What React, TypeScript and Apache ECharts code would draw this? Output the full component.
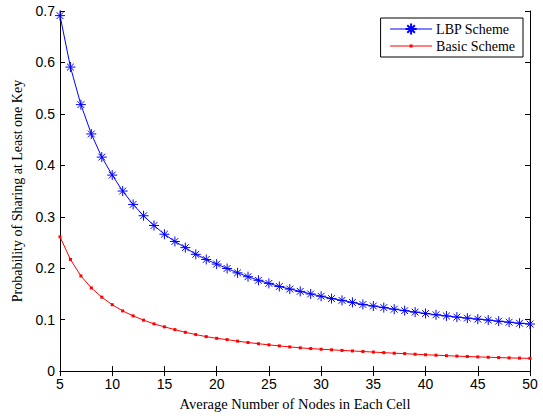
import React, { useEffect, useRef } from "react";
import * as echarts from "echarts";

const nodes = [5,6,7,8,9,10,11,12,13,14,15,16,17,18,19,20,21,22,23,24,25,26,27,28,29,30,31,32,33,34,35,36,37,38,39,40,41,42,43,44,45,46,47,48,49,50];
const lbpScheme = [0.691,0.591,0.518,0.461,0.416,0.381,0.350,0.324,0.302,0.283,0.266,0.252,0.240,0.227,0.217,0.208,0.1995,0.191,0.1835,0.1765,0.1705,0.1645,0.1595,0.155,0.150,0.1455,0.141,0.1375,0.1335,0.1295,0.1265,0.1235,0.1203,0.1175,0.1147,0.112,0.1095,0.1072,0.105,0.103,0.101,0.0992,0.097,0.095,0.093,0.0915];
const basicScheme = [0.261,0.217,0.185,0.1617,0.1438,0.129,0.117,0.1074,0.099,0.0918,0.086,0.0806,0.0754,0.071,0.067,0.0637,0.0612,0.0582,0.0556,0.0532,0.051,0.049,0.047,0.0452,0.0438,0.0425,0.0414,0.0402,0.0392,0.0381,0.037,0.0359,0.0348,0.034,0.0328,0.0318,0.0309,0.03,0.0291,0.0284,0.0276,0.0269,0.0263,0.0257,0.0252,0.0248];
const xTicks = { min: 5, max: 50, interval: 5 };
const yTicks = { min: 0, max: 0.7, interval: 0.1 };

const asterisk = "path://M5,0L5,10M0,5L10,5M1.6,1.6L8.4,8.4M1.6,8.4L8.4,1.6";
const basicLegendIcon =
  "path://M0,0L0.01,0L0,0.01Z M42,14L41.99,14L42,13.99Z M0,6.5L42,6.5L42,7.5L0,7.5Z M19.5,5.5L22.5,5.5L22.5,8.5L19.5,8.5Z";

export default function App() {
  const ref = useRef<HTMLDivElement>(null);
  useEffect(() => {
    if (!ref.current) return;
    const chart = echarts.init(ref.current, null, { renderer: "svg" });
    const tickFont = { fontFamily: "Liberation Sans", fontSize: 14, color: "#000" };
    const titleFont = { fontFamily: "Liberation Serif", fontSize: 14, color: "#000" };
    const axisLine = { show: true, lineStyle: { color: "#000", width: 1 } };
    const tick = { show: true, inside: true, length: 5, lineStyle: { color: "#000" } };
    chart.setOption({
      animation: false,
      backgroundColor: "#fff",
      grid: { left: 60, right: 13, top: 11, bottom: 40, containLabel: false },
      legend: {
        orient: "vertical",
        right: 20,
        top: 18,
        backgroundColor: "#fff",
        borderColor: "#000",
        borderWidth: 1,
        borderRadius: 0,
        padding: [4, 8, 4, 9],
        itemGap: 3,
        itemWidth: 42,
        itemHeight: 14,
        symbolKeepAspect: true,
        lineStyle: { width: 1 },
        textStyle: { fontFamily: "Liberation Serif", fontSize: 14, color: "#000", padding: [0, 0, 0, -1] },
        data: [{ name: "LBP Scheme" }, { name: "Basic Scheme", icon: basicLegendIcon }],
      },
      xAxis: [
        {
          type: "value",
          ...xTicks,
          name: "Average Number of Nodes in Each Cell",
          nameLocation: "middle",
          nameGap: 22,
          nameTextStyle: { ...titleFont, fontSize: 14.5 },
          axisLine,
          axisTick: tick,
          axisLabel: { ...tickFont, margin: 6 },
          splitLine: { show: false },
        },
        {
          type: "value",
          position: "top",
          ...xTicks,
          axisLine,
          axisTick: tick,
          axisLabel: { show: false },
          splitLine: { show: false },
        },
      ],
      yAxis: [
        {
          type: "value",
          ...yTicks,
          name: "Probability of Sharing at Least one Key",
          nameLocation: "middle",
          nameGap: 29,
          nameTextStyle: titleFont,
          axisLine,
          axisTick: tick,
          axisLabel: { ...tickFont, margin: 5 },
          splitLine: { show: false },
        },
        {
          type: "value",
          position: "right",
          ...yTicks,
          axisLine,
          axisTick: tick,
          axisLabel: { show: false },
          splitLine: { show: false },
        },
      ],
      series: [
        {
          name: "LBP Scheme",
          type: "line",
          data: nodes.map((n, i) => [n, lbpScheme[i]]),
          symbol: asterisk,
          symbolSize: 10,
          showAllSymbol: true,
          lineStyle: { color: "#0000ff", width: 1 },
          itemStyle: { color: "#0000ff", borderColor: "#0000ff", borderWidth: 1 },
          z: 3,
        },
        {
          name: "Basic Scheme",
          type: "line",
          data: nodes.map((n, i) => [n, basicScheme[i]]),
          symbol: "rect",
          symbolSize: 3,
          showAllSymbol: true,
          lineStyle: { color: "#ff0000", width: 1 },
          itemStyle: { color: "#ff0000", borderWidth: 0 },
          z: 2,
        },
      ],
    });
    return () => chart.dispose();
  }, []);
  return <div ref={ref} style={{ position: "fixed", left: 0, top: 0, width: 543, height: 416 }} />;
}
